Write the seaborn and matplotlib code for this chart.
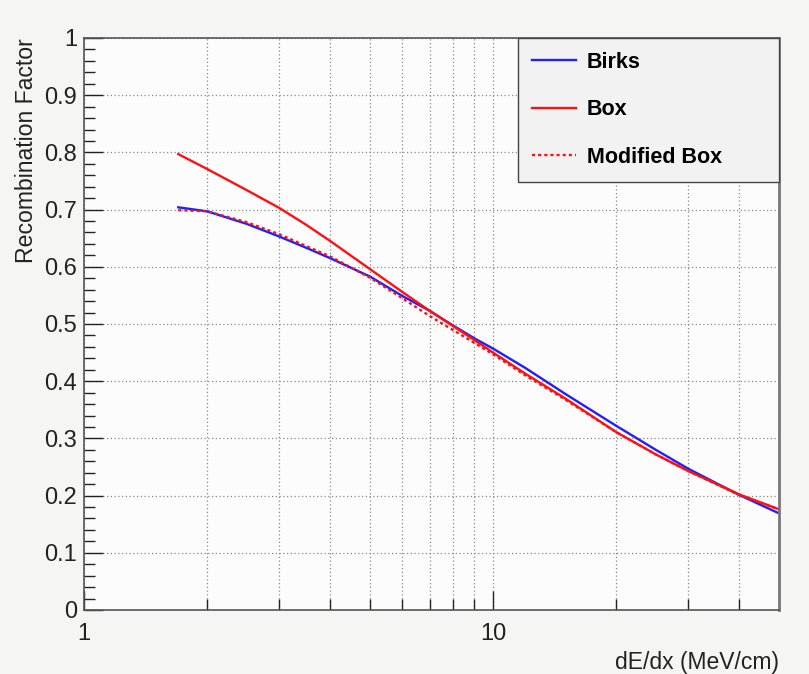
import numpy as np
import pandas as pd
import matplotlib
matplotlib.use("Agg")
import matplotlib.pyplot as plt
import matplotlib.ticker as mticker
import seaborn as sns

# ---- data ----
dedx = [1.7, 2, 2.5, 3, 3.5, 4, 5, 6, 7, 8, 9, 10, 12, 15, 20, 25, 30, 40, 50]
birks = [0.704, 0.697, 0.675, 0.653, 0.633, 0.615, 0.583, 0.549, 0.523, 0.497,
         0.475, 0.457, 0.423, 0.378, 0.322, 0.280, 0.247, 0.201, 0.169]
box = [0.797, 0.771, 0.734, 0.703, 0.673, 0.645, 0.596, 0.556, 0.523, 0.496,
       0.472, 0.450, 0.413, 0.370, 0.311, 0.272, 0.243, 0.202, 0.176]
modbox = [0.699, 0.697, 0.678, 0.657, 0.636, 0.618, 0.581, 0.545, 0.514, 0.489,
          0.467, 0.447, 0.410, 0.368, 0.311, 0.272, 0.243, 0.201, 0.176]
labels = ["Birks", "Box", "Modified Box"]
xlabel = "dE/dx (MeV/cm)"
ylabel = "Recombination Factor"

plt.rcParams['font.family'] = ['Liberation Sans', 'DejaVu Sans']

fig = plt.figure(figsize=(8.09, 6.74), dpi=100, facecolor='#f5f6f4')
ax = fig.add_axes([84/809, 1-610/674, 695/809, 572/674])
ax.set_facecolor('#fcfcfc')

sns.lineplot(x=dedx, y=birks, ax=ax, color='#1f1fff', lw=1.7, label=labels[0])
sns.lineplot(x=dedx, y=box, ax=ax, color='#ff1010', lw=1.7, label=labels[1])
sns.lineplot(x=dedx, y=modbox, ax=ax, color='#ff1010', lw=1.7,
             linestyle=(0, (1.3, 1.3)), label=labels[2])

ax.set_xscale('log')
ax.set_xlim(1, 50)
ax.set_ylim(0, 1)

ax.xaxis.set_major_locator(mticker.FixedLocator([1, 10]))
ax.xaxis.set_major_formatter(mticker.FixedFormatter(['1', '10']))
ax.xaxis.set_minor_locator(mticker.FixedLocator([2, 3, 4, 5, 6, 7, 8, 9, 20, 30, 40]))
ax.xaxis.set_minor_formatter(mticker.NullFormatter())
ax.yaxis.set_major_locator(mticker.MultipleLocator(0.1))
ax.yaxis.set_minor_locator(mticker.MultipleLocator(0.02))
ax.yaxis.set_major_formatter(mticker.FuncFormatter(lambda v, p: f"{v:g}"))

ax.tick_params(which='both', direction='in', colors='#222222', width=1.0,
               labelsize=17, top=False, right=False)
ax.tick_params(which='major', length=14)
ax.tick_params(which='minor', length=8)
ax.tick_params(axis='x', pad=9)
ax.tick_params(axis='y', pad=5)

ax.grid(True, which='major', axis='y', color='#8a8a8a', lw=0.9, linestyle=(0, (1, 2)))
ax.grid(True, which='both', axis='x', color='#8a8a8a', lw=0.9, linestyle=(0, (1, 2)))
ax.set_axisbelow(True)

for s in ax.spines.values():
    s.set_color('#555555')
    s.set_linewidth(1.2)
ax.spines['right'].set_color('#777777')
ax.spines['right'].set_linewidth(2)

ax.set_xlabel(xlabel, fontsize=16.5, color='#222222', loc='right')
ax.xaxis.set_label_coords(1.0, -0.072)
ax.xaxis.label.set_va('top')
ax.set_ylabel(ylabel, fontsize=16.6, color='#222222', loc='top')
ax.yaxis.set_label_coords(-0.066, 1.0)

leg = ax.legend(loc='upper left', bbox_to_anchor=(0.6245, 0.0, 0.3755, 1.0),
                mode='expand', borderaxespad=0, fancybox=False, framealpha=1,
                facecolor='#f2f2f2', edgecolor='#444444',
                prop={'weight': 'bold', 'size': 15.5},
                handlelength=2.05, handletextpad=0.5, borderpad=0.65,
                labelspacing=1.22)
leg.get_frame().set_linewidth(1.0)

fig.savefig('out.png', dpi=100, facecolor=fig.get_facecolor())
